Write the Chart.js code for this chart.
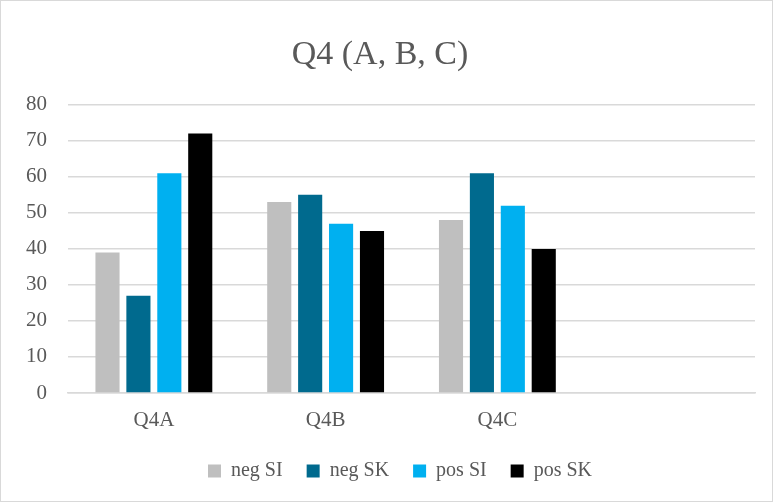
<!DOCTYPE html>
<html>
<head>
<meta charset="utf-8">
<script src="https://cdn.jsdelivr.net/npm/chart.js@4"></script>
<style>
  html, body { margin: 0; padding: 0; background: #fff; }
  .frame { width: 773px; height: 502px; box-sizing: border-box; border: 1px solid #d9d9d9; position: relative; }
  canvas { display: block; }
</style>
</head>
<body>
<div class="frame"><canvas id="chart" width="771" height="500"></canvas></div>
<script>
const categories = ['Q4A', 'Q4B', 'Q4C', ''];
const negSI = [39, 53, 48, null];
const negSK = [27, 55, 61, null];
const posSI = [61, 47, 52, null];
const posSK = [72, 45, 40, null];
const yTicks = [0, 10, 20, 30, 40, 50, 60, 70, 80];

const serif = "'Liberation Serif', 'DejaVu Serif', serif";
const textGrey = '#595959';

function series(label, data, color) {
    return {
        label: label,
        data: data,
        backgroundColor: color,
        borderWidth: 0,
        barPercentage: 0.78,
        categoryPercentage: 0.72
    };
}

// the legend sits a little right of centre in the original
const legendShift = {
    id: 'legendShift',
    afterLayout(chart) {
        chart.legend.left += 20;
        chart.legend.right += 20;
    }
};

new Chart(document.getElementById('chart'), {
    type: 'bar',
    data: {
        labels: categories,
        datasets: [
            series('neg SI', negSI, '#bfbfbf'),
            series('neg SK', negSK, '#006a8e'),
            series('pos SI', posSI, '#00b0f0'),
            series('pos SK', posSK, '#000000')
        ]
    },
    plugins: [legendShift],
    options: {
        responsive: false,
        animation: false,
        layout: { padding: { left: 4, right: 17, top: 0, bottom: 12 } },
        plugins: {
            title: {
                display: true,
                text: 'Q4 (A, B, C)',
                color: textGrey,
                font: { family: serif, size: 34, weight: 'normal' },
                padding: { top: 34, bottom: 29 }
            },
            legend: {
                position: 'bottom',
                maxHeight: 52,
                labels: {
                    color: textGrey,
                    font: { family: serif, size: 20 },
                    boxWidth: 13,
                    boxHeight: 13,
                    padding: 24
                }
            },
            tooltip: { enabled: false }
        },
        scales: {
            x: {
                afterFit: scale => { scale.height = 44; },
                grid: { display: false, drawTicks: false },
                border: { color: '#d9d9d9', width: 1.5 },
                ticks: { color: textGrey, font: { family: serif, size: 21 }, padding: 15 }
            },
            y: {
                min: 0,
                max: 80,
                afterBuildTicks: axis => { axis.ticks = yTicks.map(v => ({ value: v })); },
                grid: { color: '#d9d9d9', lineWidth: 1.5, drawTicks: false },
                border: { display: false },
                ticks: { color: textGrey, font: { family: serif, size: 21 }, padding: 21 }
            }
        }
    }
});
</script>
</body>
</html>
